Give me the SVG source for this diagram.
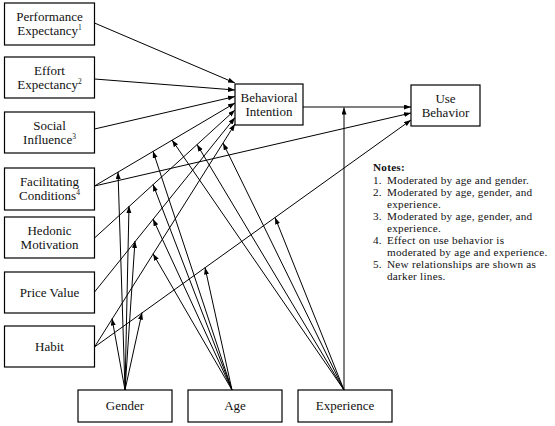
<svg xmlns="http://www.w3.org/2000/svg" width="555" height="426" viewBox="0 0 555 426">
<defs>
<marker id="ah" markerUnits="userSpaceOnUse" markerWidth="8" markerHeight="6" refX="7" refY="2.5" orient="auto">
<path d="M0,0 L7,2.5 L0,5 z" fill="#000"/>
</marker>
<style>
.box{fill:#fff;stroke:#000;stroke-width:1.2}
.lbl{font-family:"Liberation Serif","Times New Roman",serif;font-size:13px;fill:#111;text-anchor:middle}
.sup{font-size:7.5px}
.c line{stroke:#000;stroke-width:1;marker-end:url(#ah)}
.note{font-family:"Liberation Serif","Times New Roman",serif;font-size:11.2px;letter-spacing:0.25px;fill:#111}
</style>
</defs>
<rect width="555" height="426" fill="#fff"/>

<g class="c" id="connectors">
<line x1="94.5" y1="23" x2="235" y2="83"/>
<line x1="94.5" y1="79" x2="235" y2="90"/>
<line x1="94.5" y1="129" x2="235" y2="96.5"/>
<line x1="94.5" y1="186" x2="235" y2="103"/>
<line x1="94.5" y1="238" x2="235" y2="110"/>
<line x1="94.5" y1="292" x2="235" y2="117.5"/>
<line x1="94.5" y1="347" x2="235" y2="124"/>
<line x1="94.5" y1="186" x2="411" y2="113"/>
<line x1="94.5" y1="347" x2="411" y2="120"/>
<line x1="303" y1="107" x2="411" y2="107"/>
<line x1="344" y1="390" x2="344" y2="107.5"/>
<line x1="125" y1="390" x2="118" y2="172"/>
<line x1="125" y1="390" x2="129" y2="206"/>
<line x1="125" y1="390" x2="135" y2="241"/>
<line x1="125" y1="390" x2="112" y2="318.5"/>
<line x1="125" y1="390" x2="142" y2="312.6"/>
<line x1="232" y1="390" x2="153" y2="151.2"/>
<line x1="232" y1="390" x2="153" y2="184.4"/>
<line x1="232" y1="390" x2="153" y2="219"/>
<line x1="232" y1="390" x2="153" y2="253.7"/>
<line x1="232" y1="390" x2="205" y2="267.5"/>
<line x1="344" y1="390" x2="172" y2="140"/>
<line x1="344" y1="390" x2="197" y2="144.5"/>
<line x1="344" y1="390" x2="223" y2="143"/>
<line x1="344" y1="390" x2="275" y2="217.4"/>
</g>

<g id="pe"><rect class="box" x="4.5" y="3" width="90" height="42"/>
<text class="lbl" x="49.5" y="21">Performance</text>
<text class="lbl" x="49.5" y="35">Expectancy<tspan class="sup" dy="-5">1</tspan></text></g>

<g id="ee"><rect class="box" x="4.5" y="57" width="90" height="41"/>
<text class="lbl" x="49.5" y="74.5">Effort</text>
<text class="lbl" x="49.5" y="88.5">Expectancy<tspan class="sup" dy="-5">2</tspan></text></g>

<g id="si"><rect class="box" x="4.5" y="112" width="90" height="41"/>
<text class="lbl" x="49.5" y="129.5">Social</text>
<text class="lbl" x="49.5" y="143.5">Influence<tspan class="sup" dy="-5">3</tspan></text></g>

<g id="fc"><rect class="box" x="4.5" y="168" width="90" height="42"/>
<text class="lbl" x="49.5" y="186">Facilitating</text>
<text class="lbl" x="49.5" y="200">Conditions<tspan class="sup" dy="-5">4</tspan></text></g>

<g id="hm"><rect class="box" x="4.5" y="217" width="90" height="41"/>
<text class="lbl" x="49.5" y="234.5">Hedonic</text>
<text class="lbl" x="49.5" y="248.5">Motivation</text></g>

<g id="pv"><rect class="box" x="4.5" y="272" width="90" height="41"/>
<text class="lbl" x="49.5" y="297">Price Value</text></g>

<g id="habit"><rect class="box" x="4.5" y="326" width="90" height="41"/>
<text class="lbl" x="49.5" y="350.5">Habit</text></g>

<g id="bi"><rect class="box" x="235" y="84" width="68" height="41"/>
<text class="lbl" x="269" y="101.5">Behavioral</text>
<text class="lbl" x="269" y="115.5">Intention</text></g>

<g id="ub"><rect class="box" x="411" y="85" width="69" height="41"/>
<text class="lbl" x="445.5" y="102.5">Use</text>
<text class="lbl" x="445.5" y="116.5">Behavior</text></g>

<g id="gender"><rect class="box" x="78" y="390" width="94" height="32"/>
<text class="lbl" x="125" y="410">Gender</text></g>

<g id="age"><rect class="box" x="188" y="390" width="94" height="32"/>
<text class="lbl" x="235" y="410">Age</text></g>

<g id="experience"><rect class="box" x="298" y="390" width="94" height="32"/>
<text class="lbl" x="345" y="410">Experience</text></g>

<g id="notes" class="note">
<text x="373" y="171" font-weight="bold">Notes:</text>
<text x="373" y="184">1.</text><text x="387" y="184">Moderated by age and gender.</text>
<text x="373" y="196">2.</text><text x="387" y="196">Moderated by age, gender, and</text>
<text x="387" y="208">experience.</text>
<text x="373" y="220">3.</text><text x="387" y="220">Moderated by age, gender, and</text>
<text x="387" y="232">experience.</text>
<text x="373" y="244">4.</text><text x="387" y="244">Effect on use behavior is</text>
<text x="387" y="256">moderated by age and experience.</text>
<text x="373" y="268">5.</text><text x="387" y="268">New relationships are shown as</text>
<text x="387" y="280">darker lines.</text>
</g>
</svg>
